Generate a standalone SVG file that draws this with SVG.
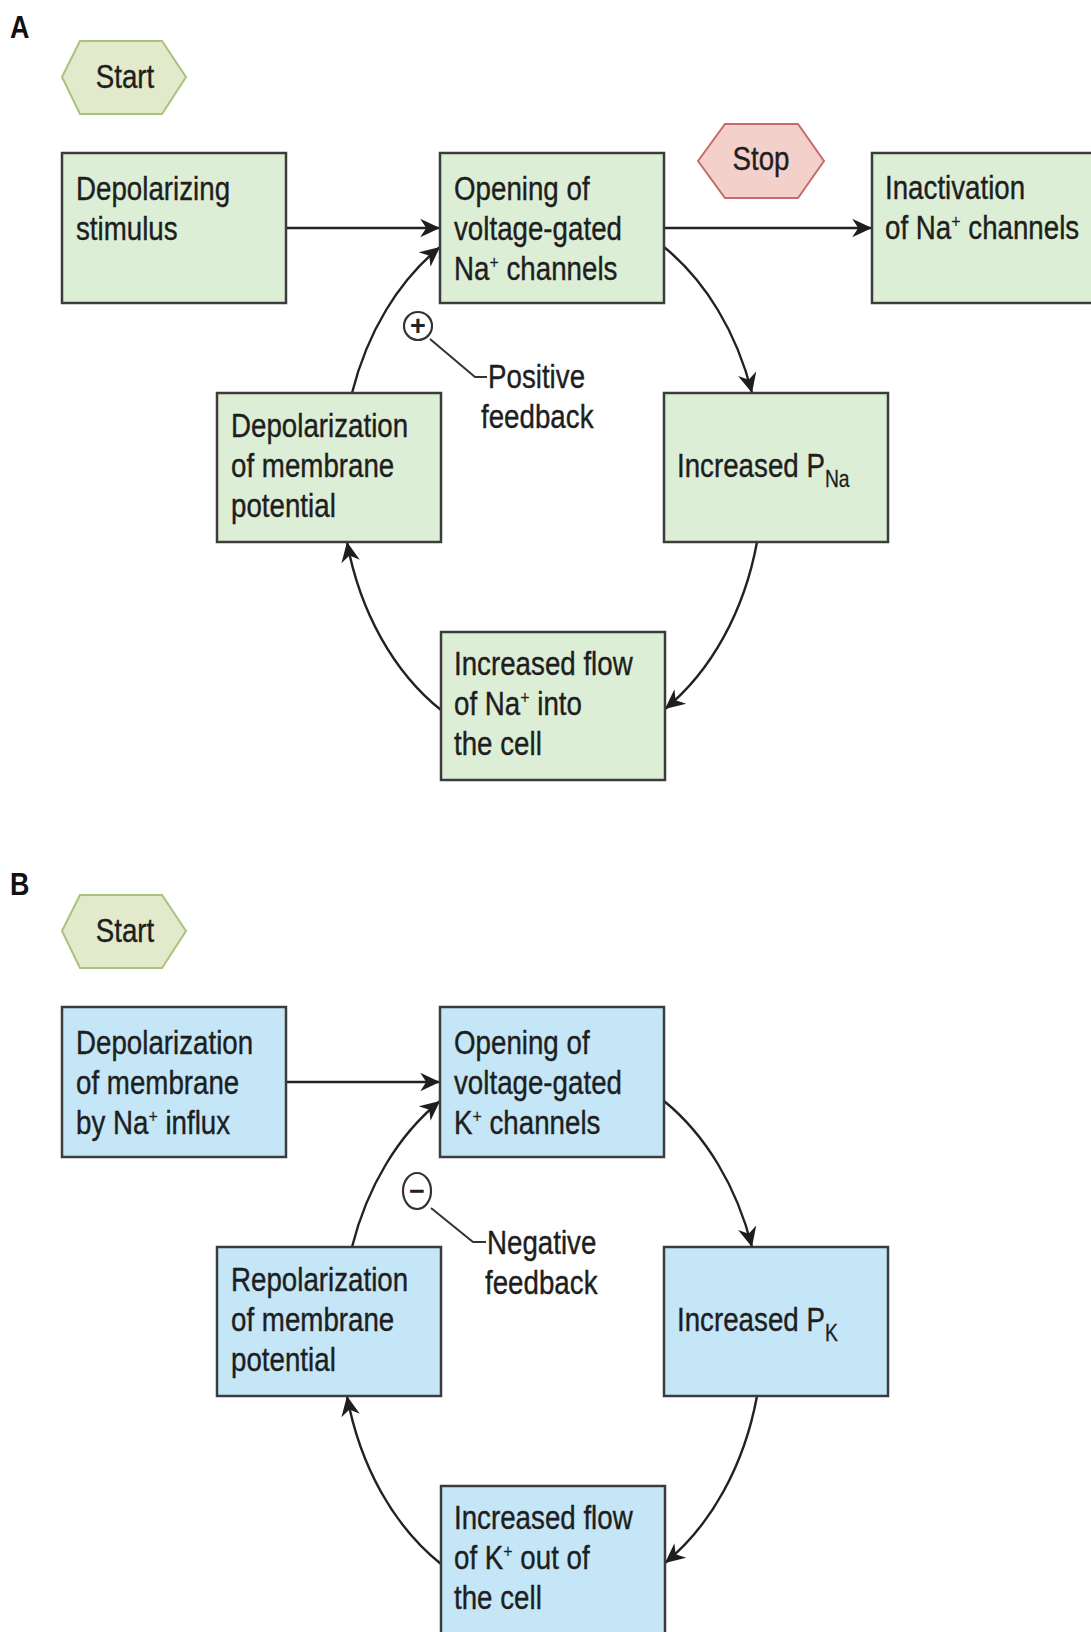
<svg xmlns="http://www.w3.org/2000/svg" width="1091" height="1632" viewBox="0 0 1091 1632">
<defs>
<style>
.bg{fill:#ffffff}
.g{fill:#ddeed6;stroke:#3c3c3c;stroke-width:2.5}
.b{fill:#c4e6f6;stroke:#3c3c3c;stroke-width:2.5}
.start{fill:#e3eacb;stroke:#a9c27f;stroke-width:2}
.stop{fill:#f3d0ca;stroke:#c86a6c;stroke-width:2}
.t{font-family:"Liberation Sans",Arial,sans-serif;font-size:33px;fill:#1e1e1e;stroke:#1e1e1e;stroke-width:0.4}
.lbl{font-family:"Liberation Sans",Arial,sans-serif;font-size:32px;font-weight:bold;fill:#111}
.sup{font-size:19px;stroke-width:0.2}
.sub{font-size:23px;stroke-width:0.3}
.sym{font-family:"Liberation Sans",Arial,sans-serif;font-size:27px;font-weight:bold;fill:#222;text-anchor:middle}
.c{fill:none;stroke:#222;stroke-width:2.4}
.lead{fill:none;stroke:#333;stroke-width:2}
.ring{fill:#fff;stroke:#333;stroke-width:2.2}
</style>
<marker id="ah" markerUnits="userSpaceOnUse" markerWidth="22" markerHeight="22" viewBox="-19 -10 20 20" refX="0" refY="0" orient="auto">
<path d="M0,0 L-18,-8.5 L-12.5,0 L-18,8.5 Z" fill="#1e1e1e"/>
</marker>
</defs>
<rect class="bg" x="0" y="0" width="1091" height="1632"/>

<!-- Panel A -->
<text id="labelA" class="lbl" transform="translate(10 38) scale(0.84 1)">A</text>

<g id="connectorsA">
<path class="c" d="M286,228 L440,228" marker-end="url(#ah)"/>
<path class="c" d="M664,228 L872,228" marker-end="url(#ah)"/>
<path class="c" d="M664,247 A210,272 0 0 1 752,393" marker-end="url(#ah)"/>
<path class="c" d="M757,542 A210,272 0 0 1 665,709" marker-end="url(#ah)"/>
<path class="c" d="M441,710 A210,272 0 0 1 347,542" marker-end="url(#ah)"/>
<path class="c" d="M352,393 A210,272 0 0 1 440,247" marker-end="url(#ah)"/>
</g>

<g id="startA">
<polygon class="start" points="62,77 80,41 162,41 186,77 162,114 80,114"/>
<text class="t" text-anchor="middle" transform="translate(125 88) scale(0.84 1)">Start</text>
</g>

<g id="stopA">
<polygon class="stop" points="698,161 725,124 798,124 824,161 798,198 725,198"/>
<text class="t" text-anchor="middle" transform="translate(761 170) scale(0.84 1)">Stop</text>
</g>

<g id="depolStimulus">
<rect class="g" x="62" y="153" width="224" height="150"/>
<text class="t" transform="translate(76 200) scale(0.84 1)"><tspan x="0" y="0">Depolarizing</tspan><tspan x="0" y="40">stimulus</tspan></text>
</g>

<g id="openNa">
<rect class="g" x="440" y="153" width="224" height="150"/>
<text class="t" transform="translate(454 200) scale(0.84 1)"><tspan x="0" y="0">Opening of</tspan><tspan x="0" y="40">voltage-gated</tspan><tspan x="0" y="80">Na<tspan class="sup" dy="-11">+</tspan><tspan dy="11"> channels</tspan></tspan></text>
</g>

<g id="inactNa">
<rect class="g" x="872" y="153" width="230" height="150"/>
<text class="t" transform="translate(885 199) scale(0.84 1)"><tspan x="0" y="0">Inactivation</tspan><tspan x="0" y="40">of Na<tspan class="sup" dy="-11">+</tspan><tspan dy="11"> channels</tspan></tspan></text>
</g>

<g id="incPNa">
<rect class="g" x="664" y="393" width="224" height="149"/>
<text class="t" transform="translate(677 477) scale(0.84 1)">Increased P<tspan class="sub" dy="10">Na</tspan></text>
</g>

<g id="flowNa">
<rect class="g" x="441" y="632" width="224" height="148"/>
<text class="t" transform="translate(454 675) scale(0.84 1)"><tspan x="0" y="0">Increased flow</tspan><tspan x="0" y="40">of Na<tspan class="sup" dy="-11">+</tspan><tspan dy="11"> into</tspan></tspan><tspan x="0" y="80">the cell</tspan></text>
</g>

<g id="depolMembrane">
<rect class="g" x="217" y="393" width="224" height="149"/>
<text class="t" transform="translate(231 437) scale(0.84 1)"><tspan x="0" y="0">Depolarization</tspan><tspan x="0" y="40">of membrane</tspan><tspan x="0" y="80">potential</tspan></text>
</g>

<g id="positiveFeedback">
<path class="lead" d="M430,339 L475,377 L487,377"/>
<circle class="ring" cx="418" cy="326" r="14"/>
<text class="sym" x="418" y="335">+</text>
<text class="t" transform="translate(488 388) scale(0.84 1)">Positive</text>
<text class="t" transform="translate(481 428) scale(0.84 1)">feedback</text>
</g>

<!-- Panel B -->
<text id="labelB" class="lbl" transform="translate(10 895) scale(0.84 1)">B</text>

<g id="connectorsB">
<path class="c" d="M286,1082 L440,1082" marker-end="url(#ah)"/>
<path class="c" d="M664,1101 A210,272 0 0 1 752,1247" marker-end="url(#ah)"/>
<path class="c" d="M757,1396 A210,272 0 0 1 665,1563" marker-end="url(#ah)"/>
<path class="c" d="M441,1564 A210,272 0 0 1 347,1396" marker-end="url(#ah)"/>
<path class="c" d="M352,1247 A210,272 0 0 1 440,1101" marker-end="url(#ah)"/>
</g>

<g id="startB">
<polygon class="start" points="62,931 80,895 162,895 186,931 162,968 80,968"/>
<text class="t" text-anchor="middle" transform="translate(125 942) scale(0.84 1)">Start</text>
</g>

<g id="depolNaInflux">
<rect class="b" x="62" y="1007" width="224" height="150"/>
<text class="t" transform="translate(76 1054) scale(0.84 1)"><tspan x="0" y="0">Depolarization</tspan><tspan x="0" y="40">of membrane</tspan><tspan x="0" y="80">by Na<tspan class="sup" dy="-11">+</tspan><tspan dy="11"> influx</tspan></tspan></text>
</g>

<g id="openK">
<rect class="b" x="440" y="1007" width="224" height="150"/>
<text class="t" transform="translate(454 1054) scale(0.84 1)"><tspan x="0" y="0">Opening of</tspan><tspan x="0" y="40">voltage-gated</tspan><tspan x="0" y="80">K<tspan class="sup" dy="-11">+</tspan><tspan dy="11"> channels</tspan></tspan></text>
</g>

<g id="incPK">
<rect class="b" x="664" y="1247" width="224" height="149"/>
<text class="t" transform="translate(677 1331) scale(0.84 1)">Increased P<tspan class="sub" dy="10">K</tspan></text>
</g>

<g id="flowK">
<rect class="b" x="441" y="1486" width="224" height="160"/>
<text class="t" transform="translate(454 1529) scale(0.84 1)"><tspan x="0" y="0">Increased flow</tspan><tspan x="0" y="40">of K<tspan class="sup" dy="-11">+</tspan><tspan dy="11"> out of</tspan></tspan><tspan x="0" y="80">the cell</tspan></text>
</g>

<g id="repolMembrane">
<rect class="b" x="217" y="1247" width="224" height="149"/>
<text class="t" transform="translate(231 1291) scale(0.84 1)"><tspan x="0" y="0">Repolarization</tspan><tspan x="0" y="40">of membrane</tspan><tspan x="0" y="80">potential</tspan></text>
</g>

<g id="negativeFeedback">
<path class="lead" d="M431,1208 L473,1242 L486,1242"/>
<ellipse class="ring" cx="417" cy="1191" rx="14" ry="18"/>
<text class="sym" x="417" y="1200">−</text>
<text class="t" transform="translate(487 1254) scale(0.84 1)">Negative</text>
<text class="t" transform="translate(485 1294) scale(0.84 1)">feedback</text>
</g>
</svg>
